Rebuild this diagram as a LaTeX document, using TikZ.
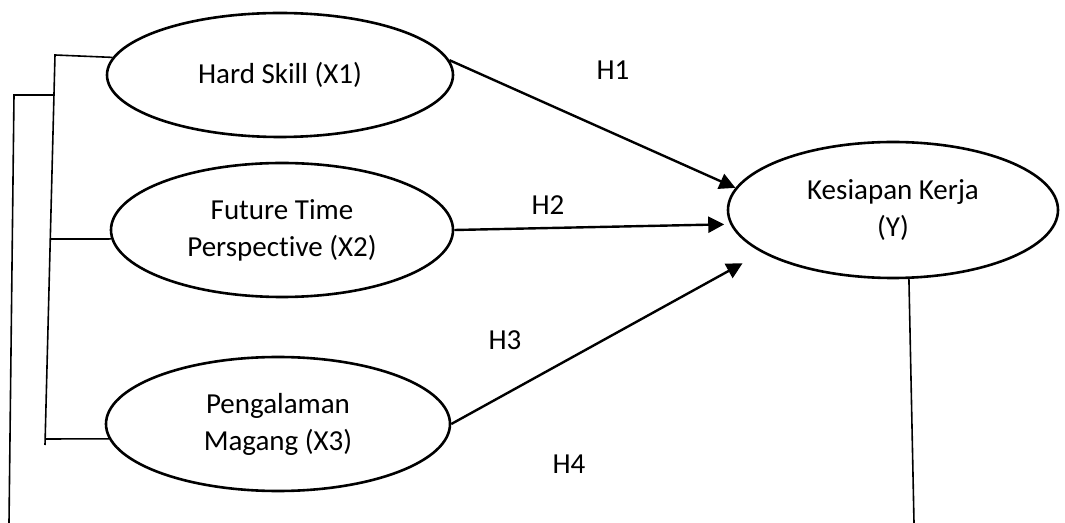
\documentclass[tikz,border=0pt]{standalone}
\usepackage{fontspec}
\setmainfont{Carlito}[Ligatures=NoCommon]
\usetikzlibrary{shapes.geometric,arrows.meta}
\begin{document}
\begin{tikzpicture}[x=0.5pt,y=-0.5pt,
  var/.style={ellipse,draw,line width=1.3pt,inner sep=0pt,align=center,
    font=\fontsize{14.5pt}{18.5pt}\selectfont},
  lbl/.style={font=\fontsize{14.5pt}{18.5pt}\selectfont,inner sep=0pt},
  hyp/.style={line width=1.2pt,-{Triangle[length=8pt,width=8pt]}},
  thinline/.style={line width=0.8pt}]
\useasboundingbox (0,0) rectangle (1065,523);
% constructs
\node[var,minimum width=173pt,minimum height=62pt] (X1) at (280,75) {Hard Skill (X1)};
\node[var,minimum width=171pt,minimum height=67pt] (X2) at (282,230) {Future Time\\Perspective (X2)};
\node[var,minimum width=172pt,minimum height=67pt] (X3) at (278,424) {Pengalaman\\Magang (X3)};
\node[var,minimum width=165pt,minimum height=68pt] (Y) at (893,210) {Kesiapan Kerja\\(Y)};
% hypotheses arrows
\draw[hyp] (X1.5) -- (Y.172);
\draw[hyp,shorten >=3pt] (X2.east) -- (Y.185);
\draw[hyp,shorten >=11pt] (X3.east) -- (Y.198);
% labels
\node[lbl] (h1) at (613,70) {H1};
\node[lbl] (h2) at (548,205) {H2};
\node[lbl] (h3) at (505,340) {H3};
\node[lbl] (h4) at (569,464) {H4};
% left bracket
\coordinate (b1) at (55,55);
\coordinate (b2) at (45,445);
\coordinate (j2) at (50.3,239);
\coordinate (j3) at (45.2,439);
\draw[thinline] (X1.174) -- (b1) -- (b2);
\draw[thinline] (X2.183) -- (j2);
\draw[thinline] (X3.185) -- (j3);
\coordinate (o1) at (54,95);
\coordinate (o2) at (14,95);
\coordinate (o3) at (9,523);
\draw[thinline] (o1) -- (o2) -- (o3);
% right line
\coordinate (ye) at (914,523);
\draw[thinline] (Y.-77) -- (ye);
\end{tikzpicture}
\end{document}
